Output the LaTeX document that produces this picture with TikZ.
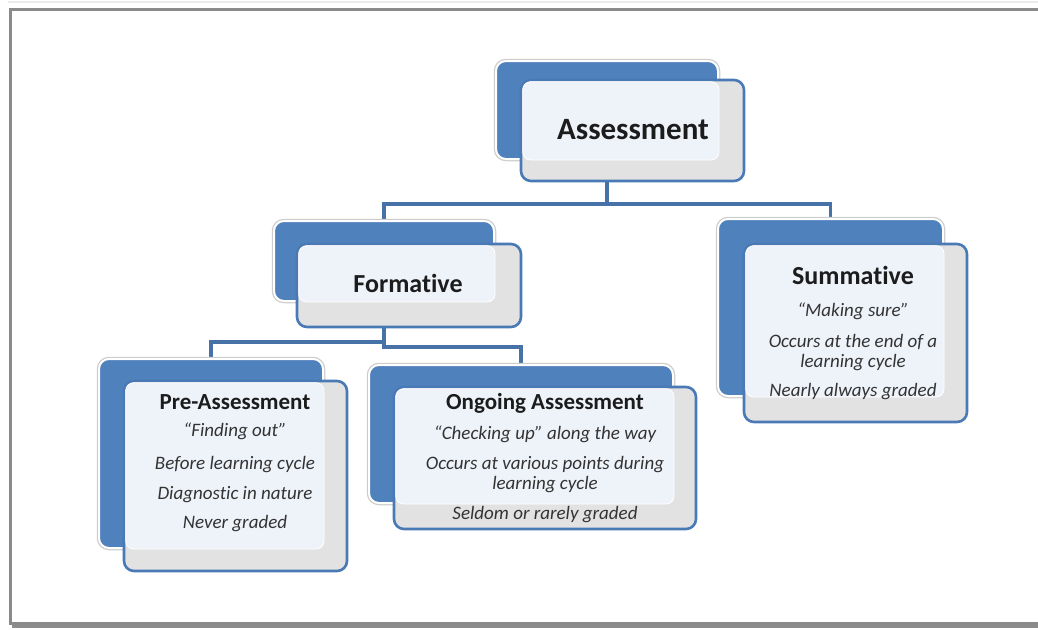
\documentclass[tikz,border=0pt]{standalone}
\usepackage{fontspec}
\setmainfont{Carlito}[Ligatures={CommonOff,ContextualOff}, RawFeature={-liga;-clig;-calt}]
\usetikzlibrary{calc}
\pgfdeclarelayer{bg}
\pgfsetlayers{bg,main}

\definecolor{boxblue}{HTML}{4F81BD}
\definecolor{edgeblue}{HTML}{4A7AB5}
\definecolor{linkblue}{HTML}{4672A8}
\definecolor{bandgray}{HTML}{E2E2E2}
\definecolor{paleface}{HTML}{EEF2F9}
\definecolor{framegray}{HTML}{8A8A8A}
\definecolor{titleink}{HTML}{1C1C1C}
\definecolor{itemink}{HTML}{333333}

\tikzset{
  backbox/.style={rectangle, rounded corners=10pt, fill=boxblue, draw=white,
    line width=2pt, preaction={draw=black!20, line width=4.5pt}, inner sep=0pt},
  frontbox/.style={rectangle, rounded corners=10pt, fill=bandgray,
    draw=edgeblue, line width=2.6pt, inner sep=0pt},
  face/.style={rounded corners=8pt, fill=paleface, draw=white, line width=0.8pt},
  link/.style={draw=linkblue, line width=3.5pt},
  bigtitle/.style={anchor=base, text=titleink, font=\bfseries\fontsize{31}{31}\selectfont},
  midtitle/.style={anchor=base, text=titleink, font=\bfseries\fontsize{26}{26}\selectfont},
  smalltitle/.style={anchor=base, text=titleink, font=\bfseries\fontsize{23}{23}\selectfont},
  itemline/.style={anchor=base, text=itemink, font=\itshape\fontsize{19}{19}\selectfont},
}

\begin{document}
\begin{tikzpicture}[x=1pt,y=-1pt]
  \useasboundingbox (0,0) rectangle (1038,629);
  \clip (0,0) rectangle (1038,629);

  % page frame with its shadow
  \draw[black!8, line width=2pt] (8,2) -- (1060,2);
  \draw[black!45, line width=3.5pt] (12,626.5) -- (1060,626.5);
  \draw[framegray, line width=3pt] (1060,9) -- (10,9) -- (10,623) -- (1060,623);

  % Assessment
  \node[backbox, minimum width=222pt, minimum height=98pt] (Ab) at (607,110) {};
  \node[frontbox, minimum width=223pt, minimum height=101pt] (Af) at (632.5,130.5) {};
  \path[face] ($(Af.north west)+(3,3)$) rectangle (Ab.south east);
  \node[bigtitle] (tA) at (633,139) {Assessment};

  % Formative
  \node[backbox, minimum width=220pt, minimum height=80pt] (Fb) at (384,261) {};
  \node[frontbox, minimum width=224pt, minimum height=83pt] (Ff) at (409,285.5) {};
  \path[face] ($(Ff.north west)+(3,3)$) rectangle (Fb.south east);
  \node[midtitle] (tF) at (408,292) {Formative};

  % Summative
  \node[backbox, minimum width=225pt, minimum height=177pt] (Sb) at (830.5,307.5) {};
  \node[frontbox, minimum width=223pt, minimum height=178pt] (Sf) at (855.5,333) {};
  \path[face] ($(Sf.north west)+(3,3)$) rectangle (Sb.south east);
  \node[midtitle] (tS) at (853,284) {Summative};
  \node[itemline] (s1) at (853,316) {“Making sure”};
  \node[itemline] (s2) at (853,347) {Occurs at the end of a};
  \node[itemline] (s3) at (853,367) {learning cycle};
  \node[itemline] (s4) at (853,396) {Nearly always graded};

  % Pre-Assessment
  \node[backbox, minimum width=224pt, minimum height=189pt] (Pb) at (211,453.5) {};
  \node[frontbox, minimum width=223pt, minimum height=190pt] (Pf) at (235.5,476) {};
  \path[face] ($(Pf.north west)+(3,3)$) rectangle (Pb.south east);
  \node[smalltitle] (tP) at (235,409) {Pre-Assessment};
  \node[itemline] (p1) at (235,436) {“Finding out”};
  \node[itemline] (p2) at (235,469) {Before learning cycle};
  \node[itemline] (p3) at (235,499) {Diagnostic in nature};
  \node[itemline] (p4) at (235,528) {Never graded};

  % Ongoing Assessment
  \node[backbox, minimum width=304pt, minimum height=138pt] (Ob) at (521,434) {};
  \node[frontbox, minimum width=302pt, minimum height=142pt] (Of) at (545,458) {};
  \path[face] ($(Of.north west)+(3,3)$) rectangle (Ob.south east);
  \node[smalltitle] (tO) at (545,409) {Ongoing Assessment};
  \node[itemline] (o1) at (545,439) {“Checking up” along the way};
  \node[itemline] (o2) at (545,469) {Occurs at various points during};
  \node[itemline] (o3) at (545,489) {learning cycle};
  \node[itemline] (o4) at (545,519) {Seldom or rarely graded};

  % hierarchy connectors, kept behind the boxes
  \begin{pgfonlayer}{bg}
    \draw[link] (Ab.south) -- ++(0,44) -| (Fb.north);
    \draw[link] (Ab.south) -- ++(0,44) -| (Sb.north);
    \draw[link] (Fb.south) -- ++(0,40) -| (Pb.north);
    \draw[link] (Fb.south) -- ++(0,45) -| (Ob.north);
  \end{pgfonlayer}
\end{tikzpicture}
\end{document}
